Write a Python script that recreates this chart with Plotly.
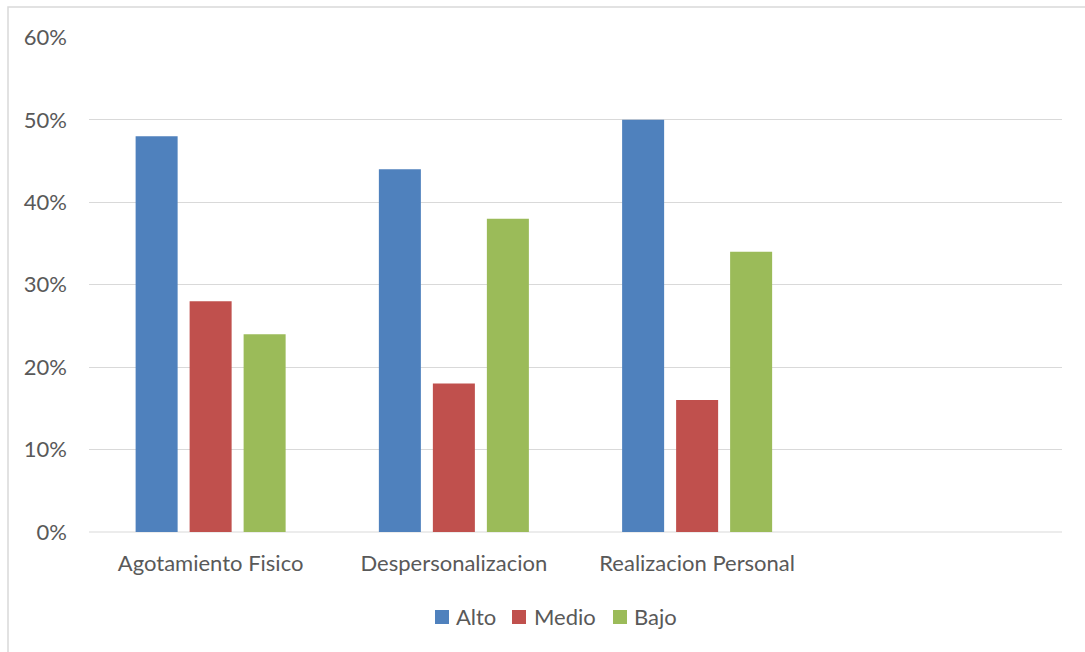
import plotly.graph_objects as go

categories = ["Agotamiento Fisico", "Despersonalizacion", "Realizacion Personal"]
alto = [0.48, 0.44, 0.50]
medio = [0.28, 0.18, 0.16]
bajo = [0.24, 0.38, 0.34]
series_names = ["Alto", "Medio", "Bajo"]
colors = ["#4F81BD", "#C0504D", "#9BBB59"]
y_ticks = [0, 0.1, 0.2, 0.3, 0.4, 0.5, 0.6]

xpos = list(range(len(categories)))

fig = go.Figure()
for name, vals, col in zip(series_names, [alto, medio, bajo], colors):
    fig.add_trace(go.Bar(x=xpos, y=vals, name=name, marker=dict(color=col, line=dict(width=0)),
                         showlegend=False))

W, H = 1085, 652
L, R, T, B = 89, 23, 37, 120
pw = W - L - R
ph = H - T - B

def px_x(x):
    return (x - L) / pw

def px_y(y):
    return (H - B - y) / ph

font_family = "Lato, Open Sans, sans-serif"
fsize = 22
fig.update_layout(
    width=W, height=H,
    margin=dict(l=L, r=R, t=T, b=B),
    paper_bgcolor="white", plot_bgcolor="white",
    barmode="group", bargap=0.334, bargroupgap=0.222,
    font=dict(family=font_family, size=fsize, color="#595959"),
    showlegend=False,
    xaxis=dict(range=[-0.5, 3.5], tickvals=xpos, ticktext=categories,
               showgrid=False, zeroline=False, showline=False,
               ticks="", ticklabelstandoff=16, fixedrange=True),
    yaxis=dict(range=[0, 0.6005], tickvals=y_ticks, tickformat=".0%",
               showgrid=True, gridcolor="#D9D9D9", gridwidth=1,
               zeroline=False, showline=False, ticks="",
               ticklabelstandoff=21),
)
# chart border
fig.add_shape(type="rect", xref="paper", yref="paper",
              x0=px_x(8), x1=px_x(W + 10),
              y0=px_y(H + 10), y1=px_y(7),
              line=dict(color="#D9D9D9", width=1.5), fillcolor="rgba(0,0,0,0)", layer="below")
fig.add_shape(type="line", xref="paper", yref="paper",
              x0=0, x1=1, y0=0, y1=0, line=dict(color="#D9D9D9", width=1), layer="below")

# legend drawn manually (square + label)
sq_left = [435, 512, 613]
txt_left = [454, 532, 632]
sq_top, sq_bot = 610, 624
for name, col, sx, tx in zip(series_names, colors, sq_left, txt_left):
    fig.add_shape(type="rect", xref="paper", yref="paper",
                  x0=px_x(sx), x1=px_x(sx + 14), y0=px_y(sq_bot), y1=px_y(sq_top),
                  line=dict(width=0), fillcolor=col)
    fig.add_annotation(xref="paper", yref="paper", x=px_x(tx), y=px_y(616),
                       xanchor="left", yanchor="middle", text=name, showarrow=False,
                       font=dict(size=fsize, color="#595959", family=font_family))

fig.write_html("out.html")
